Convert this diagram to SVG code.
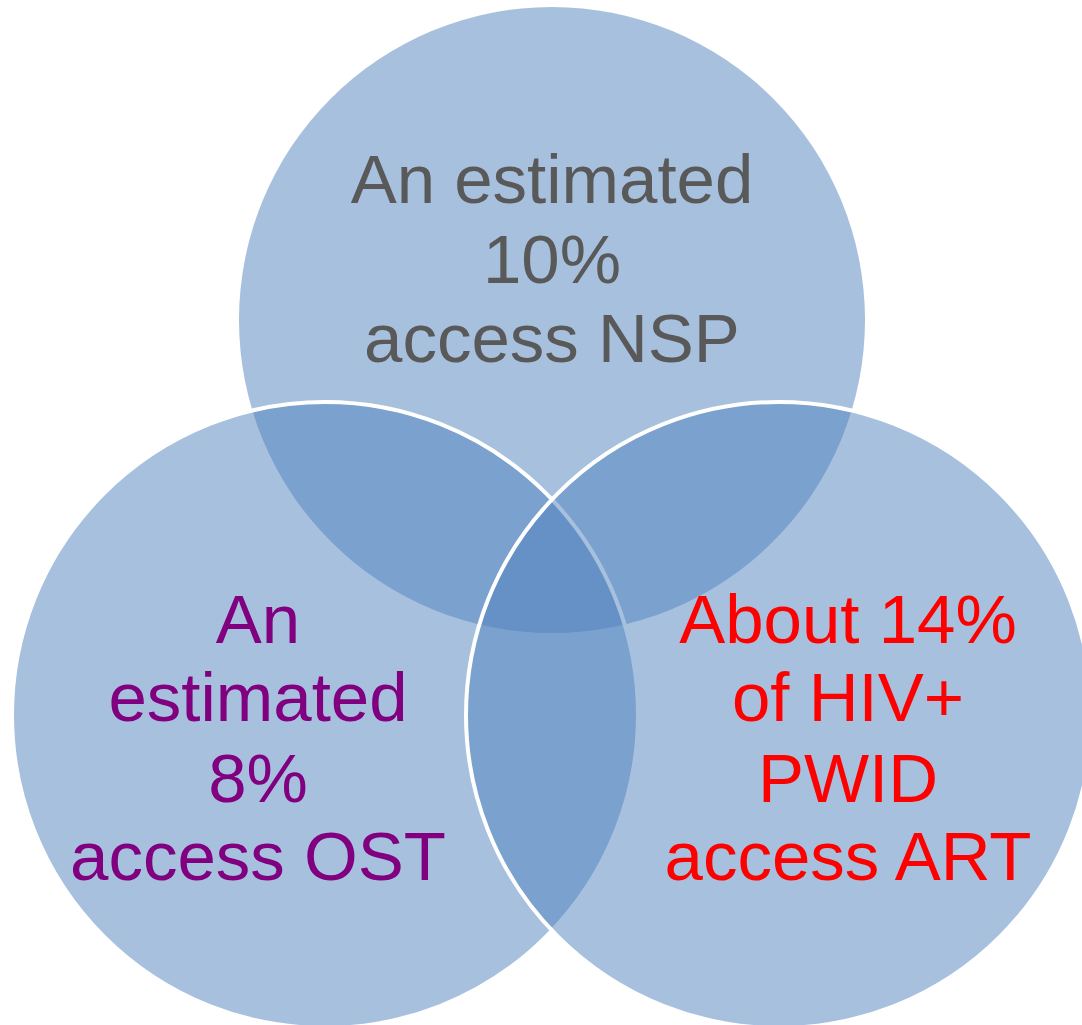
<svg xmlns="http://www.w3.org/2000/svg" width="1082" height="1025" viewBox="0 0 1082 1025">
  <style>
    .ring { fill: #4F81BD; fill-opacity: 0.5; }
    .edge { stroke: #FFFFFF; stroke-width: 4; }
    .label { font-family: "Liberation Sans", Arial, sans-serif; font-size: 69px; text-anchor: middle; }
    .nsp { fill: #595959; }
    .ost { fill: #800080; }
    .art { fill: #FF0000; }
  </style>
  <rect width="1082" height="1025" fill="#FFFFFF"/>

  <!-- Venn circles, drawn back to front -->
  <g id="circle-nsp">
    <circle class="ring" cx="552" cy="320" r="313"/>
  </g>
  <g id="circle-ost">
    <circle class="ring edge" cx="325" cy="715" r="313"/>
  </g>
  <g id="circle-art">
    <circle class="ring edge" cx="779" cy="715" r="313"/>
  </g>

  <!-- Labels -->
  <g id="label-nsp" class="label nsp">
    <text x="552" y="203">An estimated</text>
    <text x="552" y="283">10%</text>
    <text x="552" y="362">access NSP</text>
  </g>
  <g id="label-ost" class="label ost">
    <text x="258" y="643">An</text>
    <text x="258" y="721">estimated</text>
    <text x="258" y="802">8%</text>
    <text x="258" y="880">access OST</text>
  </g>
  <g id="label-art" class="label art">
    <text x="848" y="643">About 14%</text>
    <text x="848" y="721">of HIV+</text>
    <text x="848" y="802">PWID</text>
    <text x="848" y="880">access ART</text>
  </g>

  <g id="connectors"></g>
</svg>
